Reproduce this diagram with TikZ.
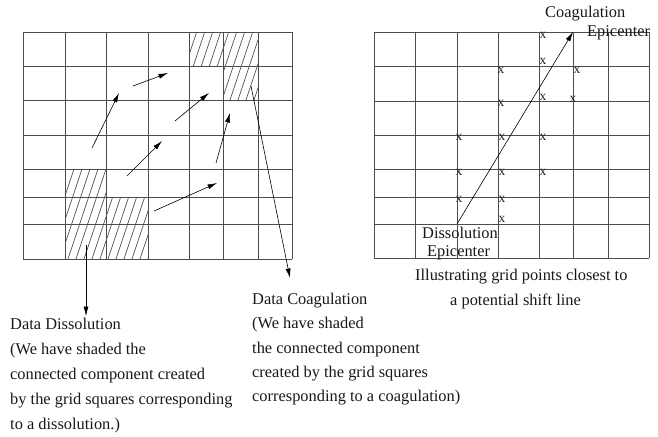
\documentclass[tikz,border=0pt]{standalone}
\usepackage{fontspec}
\setmainfont{Liberation Serif}
\usetikzlibrary{arrows.meta}
\begin{document}
\begin{tikzpicture}[x=1pt,y=-1pt,
  gridline/.style={draw=black!70, line width=0.75pt},
  hatch/.style={draw=black!80, line width=0.55pt},
  arr/.style={draw=black, line width=0.6pt, -{Latex[length=9.5pt,width=5pt]}},
  lbl/.style={font=\fontsize{16.4}{20}\selectfont, inner sep=0pt, anchor=base west, text=black!90},
  xm/.style={font=\fontsize{13.5}{13.5}\selectfont, inner sep=0pt, text=black!85},
]
\useasboundingbox[fill=white] (0,0) rectangle (658,436);

% ---------- hatching (left grid) ----------
\begin{scope}
  \clip (189,32) -- (258,32) -- (258,100) -- (223,100) -- (223,66) -- (189,66) -- cycle;
  \foreach \b in {150,158,...,270} \draw[hatch] (\b,100) -- (\b+22.67,32);
\end{scope}
\begin{scope}
  \clip (65,169) -- (106,169) -- (106,197) -- (148,197) -- (148,259) -- (65,259) -- cycle;
  \foreach \b in {20,28,...,150} \draw[hatch] (\b,259) -- (\b+30,169);
\end{scope}

% ---------- left grid ----------
\foreach \x in {23,65,106,148,189,223,258,292} \draw[gridline] (\x,32) -- (\x,259);
\foreach \y in {32,66,100,135,169,197,224,259} \draw[gridline] (23,\y) -- (292,\y);

% ---------- right grid ----------
\foreach \x in {374,415,457,498,539,573,608,649} \draw[gridline] (\x,32) -- (\x,258);
\foreach \y in {32,66,101,135,169,197,224,258} \draw[gridline] (374,\y) -- (649,\y);

% ---------- flow arrows in left grid ----------
\draw[arr] (92,148) -- (119,93);
\draw[arr] (133,86) -- (168,73);
\draw[arr] (175,121) -- (209,93);
\draw[arr] (127,176) -- (162,141);
\draw[arr] (216,163) -- (230,113);
\draw[arr] (154,211) -- (217,183);

% ---------- labels below left grid ----------
\node[lbl] (dd0) at (10,329) {Data Dissolution};
\node[lbl] (dd1) at (10,354) {(We have shaded the};
\node[lbl] (dd2) at (10,379) {connected component created};
\node[lbl] (dd3) at (10,404) {by the grid squares corresponding};
\node[lbl] (dd4) at (10,429) {to a dissolution.)};

\node[lbl] (dc0) at (252,304) {Data Coagulation};
\node[lbl] (dc1) at (252,328.5) {(We have shaded};
\node[lbl] (dc2) at (252,353) {the connected component};
\node[lbl] (dc3) at (252,377) {created by the grid squares};
\node[lbl] (dc4) at (252,401.5) {corresponding to a coagulation)};

% pointers from shaded regions to labels
\coordinate (dtail) at (86,245);
\coordinate (dtip) at (86,316);
\draw[arr] (dtail) -- (dtip);
\coordinate (ctail) at (251,86);
\coordinate (ctip) at (290,278);
\draw[arr] (ctail) -- (ctip);

% ---------- right grid: x marks ----------
\foreach \px/\py [count=\i] in {543/35, 543/61.5, 501/70, 577/70, 501/103, 543/97, 573/99,
  459/137, 502/137, 543/137, 459/172, 502/172, 543/172, 459/199, 502/199, 502/219}
  \node[xm] (xmk\i) at (\px,\py) {x};

% shift line
\coordinate (dsc) at (457,224);
\coordinate (cep) at (573,32);
\draw[arr] (dsc) -- (cep);

% right labels
\node[lbl] (ce1) at (545,18) {Coagulation};
\node[lbl] (ce2) at (587,37) {Epicenter};
\node[lbl] (de1) at (422,238) {Dissolution};
\node[lbl] (de2) at (427,256) {Epicenter};
\node[lbl] (il1) at (415,280) {Illustrating grid points closest to};
\node[lbl] (il2) at (450,305.5) {a potential shift line};
\end{tikzpicture}
\end{document}
